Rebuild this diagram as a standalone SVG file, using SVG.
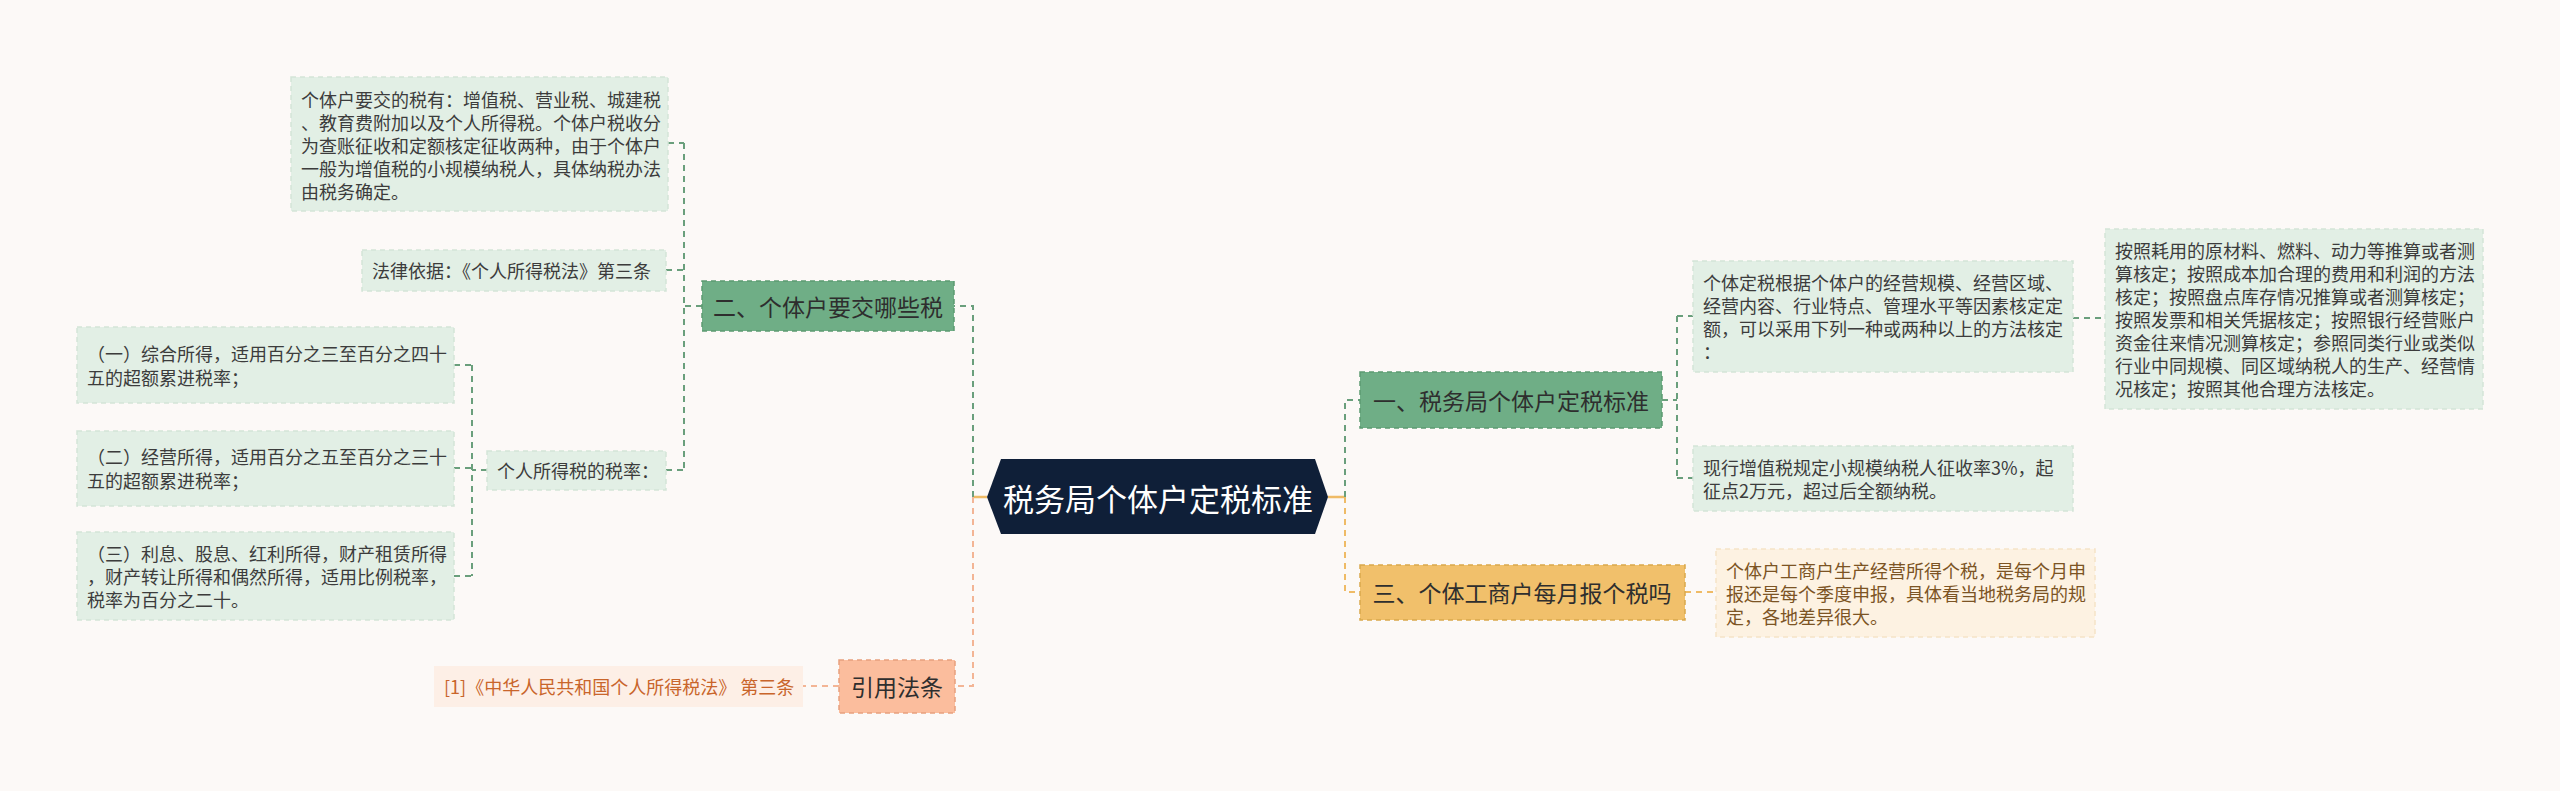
<svg xmlns="http://www.w3.org/2000/svg" width="2560" height="791" viewBox="0 0 2560 791">
<style>
text{font-family:"Noto Sans CJK SC","Noto Sans",sans-serif;}
.bg{fill:#fcf9f7}
.tb{fill:#e2efe5;stroke:#d3e5d8;stroke-width:1.5;stroke-dasharray:5 4}
.t{font-size:18px;fill:#3c3c3c;dominant-baseline:central}
.gn{fill:#6fae86;stroke:#5c9a72;stroke-width:1.5;stroke-dasharray:5 4}
.gt{font-size:23px;fill:#2e2e2e;dominant-baseline:central;text-anchor:middle}
.on{fill:#f1c06b;stroke:#d9a84c;stroke-width:1.5;stroke-dasharray:5 4}
.ob{fill:#fdf2e2;stroke:#f5e3c8;stroke-width:1.5;stroke-dasharray:5 4}
.ot{font-size:18px;fill:#7c5424;dominant-baseline:central}
.sn{fill:#fbbd9d;stroke:#e7a07e;stroke-width:1.5;stroke-dasharray:5 4}
.sb{fill:#fdefe6}
.st{font-size:18px;fill:#c9652b;dominant-baseline:central}
.cg{fill:none;stroke:#6a9f7c;stroke-width:2;stroke-dasharray:6 5}
.co{fill:none;stroke:#efbb66;stroke-width:2;stroke-dasharray:6 5}
.cs{fill:none;stroke:#f3b595;stroke-width:2;stroke-dasharray:6 5}
.solid{fill:none;stroke:#efbb66;stroke-width:2.5}
</style>
<rect class="bg" x="0" y="0" width="2560" height="791"/>
<g id="connectors">
<path class="solid" d="M987,497 H973 M1328,497 H1345"/>
<path class="cg" d="M973,497 V306 H954"/>
<path class="cs" d="M973,497 V686 H955"/>
<path class="cg" d="M1345,497 V400 H1360"/>
<path class="co" d="M1345,497 V592 H1360"/>
<path class="cg" d="M702,306 H684 M684,143 V470 M668,143 H684 M666,270 H684 M666,470 H684"/>
<path class="cg" d="M487,470 H472 M472,365 V576 M454,365 H472 M454,468 H472 M454,576 H472"/>
<path class="cg" d="M1662,400 H1677 M1677,316 V478 M1677,316 H1693 M1677,478 H1693"/>
<path class="cg" d="M2073,318 H2105"/>
<path class="co" d="M1685,592 H1716"/>
<path class="cs" d="M839,686 H803"/>
</g>
<g id="center">
<polygon points="987,497 1001,459 1315,459 1328,497 1315,534 1001,534" fill="#0f1f38"/>
<text x="1158" y="497" font-size="31" fill="#ffffff" text-anchor="middle" dominant-baseline="central">税务局个体户定税标准</text>
</g>
<g id="node-er">
<rect class="gn" x="702" y="281" width="252" height="50"/>
<text class="gt" x="828" y="306">二、个体户要交哪些税</text>
</g>
<g id="box-a">
<rect class="tb" x="291" y="77" width="377" height="134"/>
<text class="t" x="301" y="99">个体户要交的税有：增值税、营业税、城建税</text>
<text class="t" x="301" y="122">、教育费附加以及个人所得税。个体户税收分</text>
<text class="t" x="301" y="145">为查账征收和定额核定征收两种，由于个体户</text>
<text class="t" x="301" y="168">一般为增值税的小规模纳税人，具体纳税办法</text>
<text class="t" x="301" y="191">由税务确定。</text>
</g>
<g id="box-b">
<rect class="tb" x="362" y="250" width="304" height="41"/>
<text class="t" x="372" y="270">法律依据：《个人所得税法》第三条</text>
</g>
<g id="node-rate">
<rect class="tb" x="487" y="451" width="179" height="39"/>
<text class="t" x="497" y="470">个人所得税的税率：</text>
</g>
<g id="box-1">
<rect class="tb" x="77" y="327" width="377" height="76"/>
<text class="t" x="87" y="353">（一）综合所得，适用百分之三至百分之四十</text>
<text class="t" x="87" y="377">五的超额累进税率；</text>
</g>
<g id="box-2">
<rect class="tb" x="77" y="431" width="377" height="75"/>
<text class="t" x="87" y="456">（二）经营所得，适用百分之五至百分之三十</text>
<text class="t" x="87" y="480">五的超额累进税率；</text>
</g>
<g id="box-3">
<rect class="tb" x="77" y="532" width="377" height="88"/>
<text class="t" x="87" y="553">（三）利息、股息、红利所得，财产租赁所得</text>
<text class="t" x="87" y="576">，财产转让所得和偶然所得，适用比例税率，</text>
<text class="t" x="87" y="599">税率为百分之二十。</text>
</g>
<g id="node-cite">
<rect class="sn" x="839" y="660" width="116" height="53"/>
<text class="gt" x="897" y="686">引用法条</text>
</g>
<g id="box-g">
<rect class="sb" x="434" y="666" width="369" height="41"/>
<text class="st" x="444" y="686">[1]《中华人民共和国个人所得税法》 第三条</text>
</g>
<g id="node-yi">
<rect class="gn" x="1360" y="372" width="302" height="56"/>
<text class="gt" x="1511" y="400">一、税务局个体户定税标准</text>
</g>
<g id="box-c">
<rect class="tb" x="1693" y="261" width="380" height="111"/>
<text class="t" x="1703" y="282">个体定税根据个体户的经营规模、经营区域、</text>
<text class="t" x="1703" y="305">经营内容、行业特点、管理水平等因素核定定</text>
<text class="t" x="1703" y="328">额，可以采用下列一种或两种以上的方法核定</text>
<text class="t" x="1703" y="351">：</text>
</g>
<g id="box-d">
<rect class="tb" x="2105" y="229" width="378" height="180"/>
<text class="t" x="2115" y="250">按照耗用的原材料、燃料、动力等推算或者测</text>
<text class="t" x="2115" y="273">算核定；按照成本加合理的费用和利润的方法</text>
<text class="t" x="2115" y="296">核定；按照盘点库存情况推算或者测算核定；</text>
<text class="t" x="2115" y="319">按照发票和相关凭据核定；按照银行经营账户</text>
<text class="t" x="2115" y="342">资金往来情况测算核定；参照同类行业或类似</text>
<text class="t" x="2115" y="365">行业中同规模、同区域纳税人的生产、经营情</text>
<text class="t" x="2115" y="388">况核定；按照其他合理方法核定。</text>
</g>
<g id="box-e">
<rect class="tb" x="1693" y="446" width="380" height="65"/>
<text class="t" x="1703" y="467">现行增值税规定小规模纳税人征收率3%，起</text>
<text class="t" x="1703" y="490">征点2万元，超过后全额纳税。</text>
</g>
<g id="node-san">
<rect class="on" x="1360" y="565" width="325" height="55"/>
<text class="gt" x="1522" y="592">三、个体工商户每月报个税吗</text>
</g>
<g id="box-f">
<rect class="ob" x="1716" y="549" width="379" height="88"/>
<text class="ot" x="1726" y="570">个体户工商户生产经营所得个税，是每个月申</text>
<text class="ot" x="1726" y="593">报还是每个季度申报，具体看当地税务局的规</text>
<text class="ot" x="1726" y="616">定，各地差异很大。</text>
</g>
</svg>
